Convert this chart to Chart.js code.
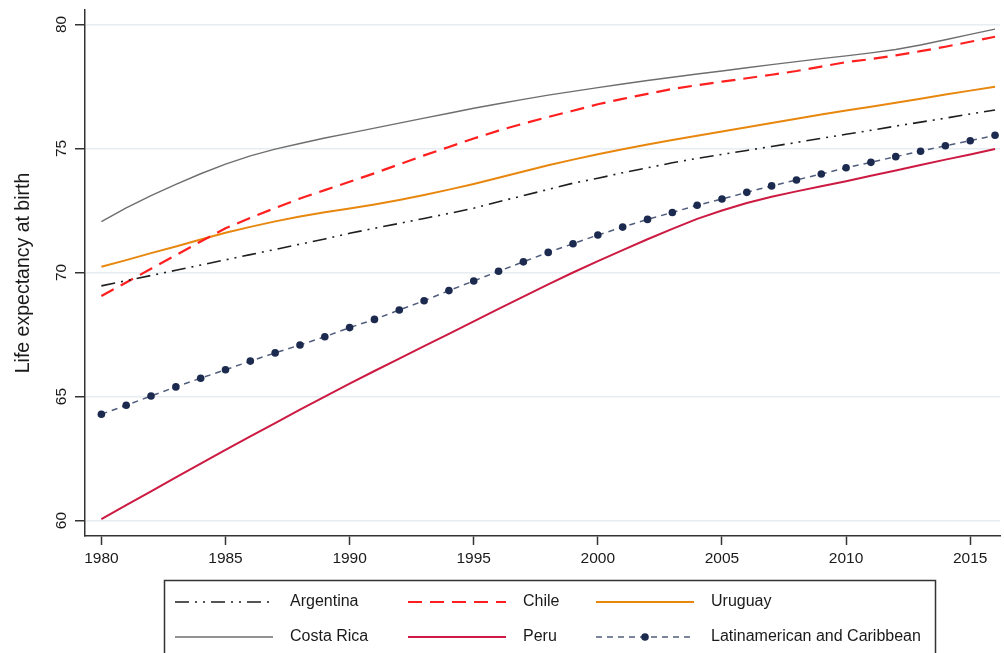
<!DOCTYPE html>
<html>
<head>
<meta charset="utf-8">
<title>Life expectancy at birth</title>
<script src="https://cdn.jsdelivr.net/npm/chart.js@4.4.1/dist/chart.umd.min.js"></script>
<style>
  html, body { margin: 0; padding: 0; background: #fff; }
  #wrap { width: 1004px; height: 653px; position: relative; }
</style>
</head>
<body>
<div id="wrap"><canvas id="lifeChart" width="1004" height="653"></canvas></div>
<script>
// Data
const years = [1980, 1981, 1982, 1983, 1984, 1985, 1986, 1987, 1988, 1989,
               1990, 1991, 1992, 1993, 1994, 1995, 1996, 1997, 1998, 1999,
               2000, 2001, 2002, 2003, 2004, 2005, 2006, 2007, 2008, 2009,
               2010, 2011, 2012, 2013, 2014, 2015, 2016];

const argentina = [69.46, 69.67, 69.88, 70.09, 70.30, 70.51, 70.72, 70.93, 71.14, 71.35,
                   71.58, 71.78, 71.98, 72.18, 72.38, 72.59, 72.85, 73.10, 73.35, 73.60,
                   73.80, 74.02, 74.22, 74.42, 74.60, 74.76, 74.92, 75.08, 75.24, 75.41,
                   75.57, 75.73, 75.90, 76.06, 76.22, 76.39, 76.55];
const chile = [69.05, 69.60, 70.15, 70.70, 71.25, 71.78, 72.20, 72.60, 72.98, 73.32,
               73.66, 74.00, 74.36, 74.72, 75.06, 75.40, 75.72, 76.00, 76.27, 76.52,
               76.78, 77.00, 77.20, 77.40, 77.55, 77.69, 77.83, 77.97, 78.12, 78.30,
               78.48, 78.60, 78.75, 78.92, 79.10, 79.30, 79.50];
const uruguay = [70.23, 70.50, 70.78, 71.05, 71.33, 71.60, 71.84, 72.06, 72.26, 72.43,
                 72.58, 72.74, 72.92, 73.12, 73.34, 73.57, 73.82, 74.07, 74.32, 74.55,
                 74.77, 74.97, 75.16, 75.34, 75.51, 75.68, 75.85, 76.03, 76.20, 76.37,
                 76.53, 76.68, 76.84, 77.00, 77.17, 77.33, 77.49];
const costaRica = [72.05, 72.60, 73.10, 73.55, 73.98, 74.37, 74.70, 74.97, 75.20, 75.42,
                   75.62, 75.82, 76.02, 76.22, 76.42, 76.62, 76.80, 76.98, 77.15, 77.30,
                   77.45, 77.60, 77.74, 77.87, 78.00, 78.12, 78.25, 78.38, 78.50, 78.62,
                   78.73, 78.85, 78.99, 79.17, 79.38, 79.60, 79.81];
const peru = [60.06, 60.62, 61.18, 61.74, 62.30, 62.85, 63.40, 63.93, 64.47, 65.00,
              65.52, 66.03, 66.53, 67.03, 67.53, 68.03, 68.53, 69.03, 69.52, 70.00,
              70.46, 70.90, 71.34, 71.76, 72.16, 72.50, 72.80, 73.05, 73.27, 73.48,
              73.68, 73.90, 74.11, 74.33, 74.55, 74.76, 74.98];
const latinAmerica = [64.29, 64.65, 65.02, 65.39, 65.74, 66.08, 66.43, 66.76, 67.08, 67.41,
                      67.78, 68.11, 68.49, 68.86, 69.27, 69.66, 70.05, 70.43, 70.81, 71.16,
                      71.51, 71.83, 72.14, 72.42, 72.71, 72.96, 73.23, 73.49, 73.73, 73.97,
                      74.22, 74.44, 74.67, 74.89, 75.11, 75.31, 75.53];

const xTicks = [1980, 1985, 1990, 1995, 2000, 2005, 2010, 2015];
const yTicks = [60, 65, 70, 75, 80];

const FONT = "'Liberation Sans', Arial, sans-serif";
const TEXT = '#1a1a1a';
const AXIS = '#333333';

function pts(values) {
    return years.map((yr, i) => ({ x: yr, y: values[i] }));
}

function lineSet(label, values, color, width, dash) {
    return {
        label: label,
        data: pts(values),
        borderColor: color,
        backgroundColor: color,
        borderWidth: width,
        borderDash: dash,
        pointRadius: 0,
        tension: 0,
        fill: false
    };
}

const datasets = [
    lineSet('Argentina', argentina, '#1e1e1e', 1.6, [14, 6, 2, 6, 2, 6]),
    lineSet('Chile', chile, '#ff1f1f', 2.2, [14, 8]),
    lineSet('Uruguay', uruguay, '#e8870e', 2, []),
    lineSet('Costa Rica', costaRica, '#6e6e6e', 1.4, []),
    lineSet('Peru', peru, '#cc1a42', 2, []),
    Object.assign(lineSet('Latinamerican and Caribbean', latinAmerica, '#515d7c', 1.5, [6, 5]), {
        pointRadius: 3.8,
        pointBackgroundColor: '#1b2a4e',
        pointBorderColor: '#1b2a4e',
        pointBorderWidth: 0
    })
];

// Boxed legend, 3 columns x 2 rows, like the Stata original
const legendBox = {
    id: 'legendBox',
    afterDraw(chart) {
        const ctx = chart.ctx;
        const sets = chart.data.datasets;
        const colX = [175, 408, 596];
        const rowY = [602, 637];
        const sampleLen = 98;
        const textGap = 17;
        ctx.save();
        ctx.strokeStyle = AXIS;
        ctx.lineWidth = 1.5;
        ctx.strokeRect(164.5, 580.5, 771, 90);

        ctx.font = '16px ' + FONT;
        ctx.textBaseline = 'middle';
        ctx.fillStyle = TEXT;
        sets.forEach((ds, i) => {
            const x = colX[i % 3];
            const y = rowY[Math.floor(i / 3)];
            ctx.save();
            ctx.strokeStyle = ds.borderColor;
            ctx.lineWidth = ds.borderWidth;
            ctx.setLineDash(ds.borderDash || []);
            ctx.beginPath();
            ctx.moveTo(x, y);
            ctx.lineTo(x + sampleLen, y);
            ctx.stroke();
            if (ds.pointRadius > 0) {
                ctx.fillStyle = ds.pointBackgroundColor;
                ctx.beginPath();
                ctx.arc(x + sampleLen / 2, y, ds.pointRadius, 0, Math.PI * 2);
                ctx.fill();
            }
            ctx.restore();
            ctx.fillText(ds.label, x + sampleLen + textGap, y);
        });
        ctx.restore();
    }
};

new Chart(document.getElementById('lifeChart'), {
    type: 'line',
    data: { datasets: datasets },
    options: {
        responsive: false,
        animation: false,
        layout: { padding: { top: 10, right: 0, bottom: 0, left: 0 } },
        plugins: {
            legend: { display: false },
            tooltip: { enabled: false }
        },
        scales: {
            x: {
                type: 'linear',
                min: 1979.34,
                max: 2016.2,
                afterBuildTicks: s => { s.ticks = xTicks.map(v => ({ value: v })); },
                afterFit: s => { s.height = 117; s.paddingLeft = 0; s.paddingRight = 0; },
                border: { color: AXIS, width: 1.5 },
                grid: {
                    drawOnChartArea: false,
                    color: AXIS,
                    tickColor: AXIS,
                    tickLength: 9,
                    tickWidth: 1.5
                },
                ticks: {
                    autoSkip: false,
                    maxRotation: 0,
                    padding: 4,
                    color: TEXT,
                    font: { family: FONT, size: 15.5 },
                    callback: v => String(v)
                }
            },
            y: {
                type: 'linear',
                min: 59.38,
                max: 80.58,
                afterBuildTicks: s => { s.ticks = yTicks.map(v => ({ value: v })); },
                afterFit: s => { s.width = 85; s.paddingTop = 0; s.paddingBottom = 0; },
                border: { color: AXIS, width: 1.5 },
                grid: {
                    color: '#e6eef1',
                    lineWidth: 1.5,
                    tickColor: AXIS,
                    tickLength: 10,
                    tickWidth: 1.5
                },
                ticks: {
                    minRotation: 90,
                    maxRotation: 90,
                    crossAlign: 'center',
                    padding: 5,
                    color: TEXT,
                    font: { family: FONT, size: 15.5 }
                },
                title: {
                    display: true,
                    text: 'Life expectancy at birth',
                    color: TEXT,
                    font: { family: FONT, size: 19.5 },
                    padding: { top: 12, bottom: 0 }
                }
            }
        }
    },
    plugins: [legendBox]
});
</script>
</body>
</html>
